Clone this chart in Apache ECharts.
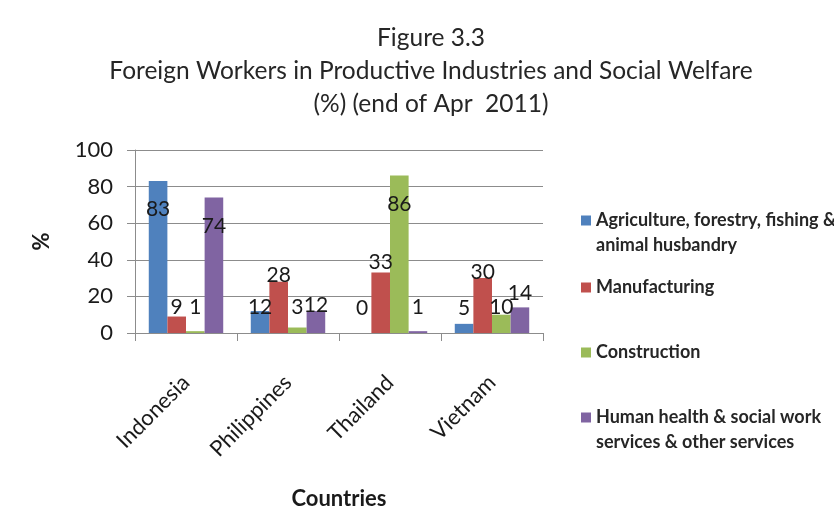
<!DOCTYPE html>
<html>
<head>
<meta charset="utf-8">
<script src="https://cdn.jsdelivr.net/npm/echarts@6/dist/echarts.min.js"></script>
<style>
  html, body { margin: 0; padding: 0; background: #ffffff; }
  #chart { width: 834px; height: 522px; }
</style>
</head>
<body>
<div id="chart"></div>
<script>
// Foreign workers by industry, share (%) per source country, end of April 2011
const countries = ['Indonesia', 'Philippines', 'Thailand', 'Vietnam'];
const agriculture = [83, 12, 0, 5];
const manufacturing = [9, 28, 33, 30];
const construction = [1, 3, 86, 10];
const humanHealth = [74, 12, 1, 14];
const yTicks = { min: 0, max: 100, interval: 20 };

const seriesNames = [
  'Agriculture, forestry, fishing & animal husbandry',
  'Manufacturing',
  'Construction',
  'Human health & social work services & other services'
];
// legend wording split into the lines shown beside each swatch
const legendLines = [
  ['Agriculture, forestry, fishing &', 'animal husbandry'],
  ['Manufacturing'],
  ['Construction'],
  ['Human health & social work', 'services & other services']
];
const colors = ['#4F81BD', '#C0504D', '#9BBB59', '#8064A2'];

// vertical nudges (px) for the value labels so they do not collide
const labelNudge = [
  [38, 6, -15, -6],
  [1, 3, 0, 4],
  [-14, -10, 39, 3],
  [39, 4, -14, -4]
];
const legendTops = [183, 275, 340, 380];

const FONT = 'Lato, "Open Sans", sans-serif';
const values = [agriculture, manufacturing, construction, humanHealth];

const series = values.map((vals, s) => ({
  name: seriesNames[s],
  type: 'bar',
  barGap: '0%',
  barCategoryGap: '27%',
  itemStyle: { color: colors[s] },
  data: vals.map((v, i) => ({
    value: v,
    label: { offset: [0, labelNudge[s][i]] }
  })),
  label: {
    show: true,
    position: 'top',
    distance: 0,
    fontFamily: FONT,
    fontSize: 21,
    lineHeight: 20,
    color: '#1a1a1a'
  }
}));

const legends = seriesNames.map((name, s) => ({
  data: [name],
  orient: 'vertical',
  left: 581,
  top: legendTops[s],
  padding: 0,
  itemWidth: 10,
  itemHeight: 10,
  itemGap: 0,
  itemTextGap: 5,
  selectedMode: false,
  icon: 'rect',
  formatter: () => {
    const lines = legendLines[s];
    return lines.length > 1 ? ' \n' + lines.join('\n') : lines[0];
  },
  textStyle: {
    fontFamily: FONT,
    fontSize: 18,
    lineHeight: 25,
    fontWeight: 'bold',
    color: '#262626'
  }
}));

const chart = echarts.init(document.getElementById('chart'), null, { renderer: 'canvas' });
chart.setOption({
  animation: false,
  backgroundColor: '#ffffff',
  title: {
    text: 'Figure 3.3\nForeign Workers in Productive Industries and Social Welfare\n(%) (end of Apr  2011)',
    left: 426,
    top: 17,
    textAlign: 'center',
    textStyle: {
      fontFamily: FONT,
      fontSize: 24.5,
      lineHeight: 33,
      fontWeight: 'normal',
      color: '#262626'
    }
  },
  legend: legends,
  grid: { left: 135, right: 291, top: 150, bottom: 189, containLabel: false },
  xAxis: {
    type: 'category',
    data: countries,
    name: 'Countries',
    nameLocation: 'middle',
    nameGap: 155,
    nameTextStyle: { fontFamily: FONT, fontSize: 22, fontWeight: 'bold', color: '#1a1a1a' },
    axisLine: { show: true, lineStyle: { color: '#8c8c8c', width: 1 } },
    axisTick: { show: true, length: 8, lineStyle: { color: '#8c8c8c' } },
    axisLabel: {
      interval: 0,
      rotate: 45,
      margin: 46,
      fontFamily: FONT,
      fontSize: 22,
      color: '#1a1a1a'
    },
    splitLine: { show: false }
  },
  yAxis: {
    type: 'value',
    min: yTicks.min,
    max: yTicks.max,
    interval: yTicks.interval,
    name: '%',
    nameLocation: 'middle',
    nameRotate: 90,
    nameGap: 82,
    nameTextStyle: { fontFamily: FONT, fontSize: 22, fontWeight: 'bold', color: '#1a1a1a' },
    axisLine: { show: true, lineStyle: { color: '#8c8c8c', width: 1 } },
    axisTick: { show: true, length: 8, lineStyle: { color: '#8c8c8c' } },
    axisLabel: { margin: 22, fontFamily: FONT, fontSize: 22, color: '#1a1a1a' },
    splitLine: { show: true, lineStyle: { color: '#8c8c8c', width: 1 } }
  },
  series: series
});
</script>
</body>
</html>
